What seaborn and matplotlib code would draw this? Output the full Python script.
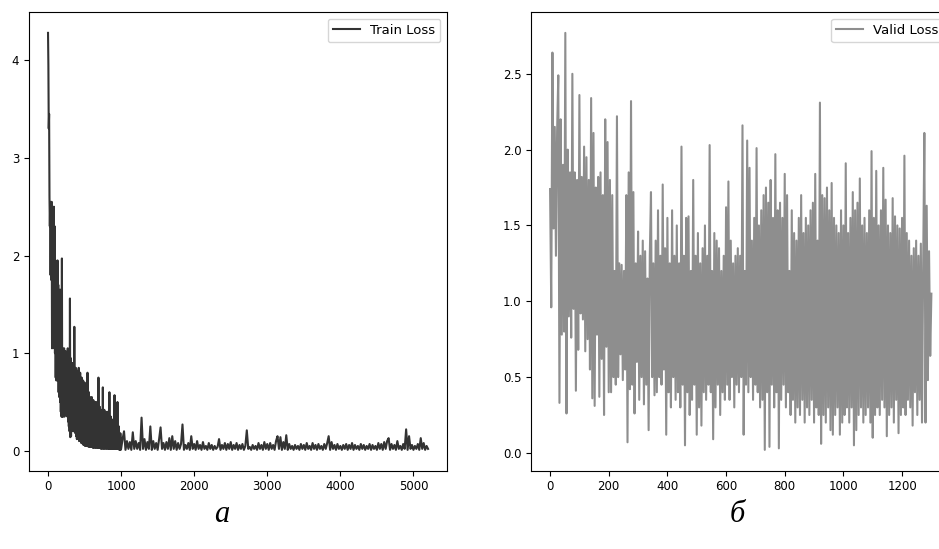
import numpy as np
import pandas as pd
import matplotlib
matplotlib.use("Agg")
import matplotlib.pyplot as plt
import seaborn as sns

# ---- data ----
# early part of the training curve: one value every 5 steps (0..995)
train_early_step = 5
train_early = [
    4.28, 3.95, 3.30, 3.45, 2.60, 2.30, 2.55, 1.80, 2.50, 1.75,
    2.55, 1.05, 2.45, 1.10, 2.40, 1.20, 2.50, 1.05, 2.30, 1.00,
    1.95, 0.75, 1.90, 0.72, 1.80, 0.80, 1.95, 0.72, 1.70, 0.60,
    1.65, 0.55, 1.60, 0.50, 1.65, 0.40, 1.55, 0.35, 1.97, 0.35,
    1.05, 0.35, 1.00, 0.40, 1.05, 0.35, 0.95, 0.45, 1.02, 0.40,
    1.00, 0.45, 0.95, 0.35, 1.05, 0.30, 0.90, 0.25, 1.00, 0.20,
    1.56, 0.14, 0.95, 0.15, 0.90, 0.30, 0.85, 0.25, 0.90, 0.20,
    0.85, 0.25, 1.27, 0.20, 0.70, 0.18, 0.85, 0.15, 0.60, 0.12,
    0.82, 0.15, 0.55, 0.12, 0.85, 0.10, 0.60, 0.12, 0.80, 0.10,
    0.60, 0.08, 0.75, 0.10, 0.50, 0.07, 0.72, 0.06, 0.45, 0.08,
    0.70, 0.05, 0.50, 0.06, 0.62, 0.05, 0.42, 0.05, 0.80, 0.05,
    0.45, 0.04, 0.60, 0.05, 0.40, 0.04, 0.55, 0.04, 0.38, 0.05,
    0.55, 0.04, 0.35, 0.03, 0.52, 0.04, 0.38, 0.03, 0.50, 0.04,
    0.35, 0.03, 0.50, 0.04, 0.32, 0.03, 0.48, 0.03, 0.75, 0.03,
    0.35, 0.03, 0.45, 0.03, 0.30, 0.02, 0.42, 0.03, 0.28, 0.02,
    0.65, 0.03, 0.30, 0.02, 0.42, 0.03, 0.28, 0.02, 0.40, 0.03,
    0.25, 0.02, 0.40, 0.03, 0.25, 0.02, 0.38, 0.02, 0.60, 0.02,
    0.25, 0.02, 0.35, 0.02, 0.22, 0.02, 0.32, 0.02, 0.20, 0.02,
    0.30, 0.02, 0.57, 0.02, 0.22, 0.02, 0.30, 0.02, 0.20, 0.02,
    0.50, 0.02, 0.20, 0.02, 0.25, 0.01, 0.15, 0.01, 0.18, 0.01,
]
# rest of the training curve: one value every 20 steps (1000..5200)
train_late_start = 1000
train_late_step = 20
train_late = [
    0.02, 0.12, 0.20, 0.01, 0.10, 0.02, 0.09, 0.01, 0.19, 0.02,
    0.10, 0.02, 0.08, 0.01, 0.34, 0.02, 0.12, 0.01, 0.09, 0.02,
    0.25, 0.01, 0.10, 0.02, 0.08, 0.01, 0.12, 0.24, 0.02, 0.08,
    0.01, 0.09, 0.02, 0.13, 0.01, 0.15, 0.02, 0.10, 0.01, 0.08,
    0.02, 0.07, 0.27, 0.01, 0.06, 0.02, 0.08, 0.01, 0.15, 0.02,
    0.07, 0.01, 0.10, 0.02, 0.06, 0.01, 0.09, 0.02, 0.05, 0.01,
    0.08, 0.02, 0.06, 0.01, 0.05, 0.02, 0.04, 0.12, 0.01, 0.06,
    0.02, 0.08, 0.01, 0.07, 0.02, 0.09, 0.01, 0.06, 0.02, 0.08,
    0.01, 0.06, 0.02, 0.07, 0.01, 0.05, 0.21, 0.02, 0.04, 0.01,
    0.06, 0.02, 0.05, 0.01, 0.08, 0.02, 0.06, 0.01, 0.09, 0.02,
    0.07, 0.01, 0.08, 0.02, 0.06, 0.01, 0.10, 0.15, 0.02, 0.14,
    0.01, 0.09, 0.02, 0.16, 0.01, 0.07, 0.02, 0.05, 0.01, 0.06,
    0.02, 0.05, 0.01, 0.07, 0.02, 0.06, 0.01, 0.08, 0.02, 0.05,
    0.01, 0.08, 0.02, 0.06, 0.01, 0.07, 0.02, 0.05, 0.01, 0.07,
    0.02, 0.08, 0.15, 0.01, 0.09, 0.02, 0.06, 0.01, 0.07, 0.02,
    0.05, 0.01, 0.06, 0.02, 0.07, 0.01, 0.06, 0.02, 0.08, 0.01,
    0.06, 0.02, 0.05, 0.01, 0.07, 0.02, 0.06, 0.01, 0.05, 0.02,
    0.07, 0.01, 0.06, 0.02, 0.05, 0.01, 0.08, 0.02, 0.07, 0.01,
    0.09, 0.02, 0.10, 0.13, 0.01, 0.07, 0.02, 0.06, 0.01, 0.10,
    0.02, 0.05, 0.01, 0.07, 0.02, 0.22, 0.01, 0.15, 0.02, 0.06,
    0.01, 0.05, 0.02, 0.07, 0.01, 0.13, 0.02, 0.08, 0.01, 0.05,
    0.02,
]

valid_step = 4
valid_loss = [
    1.74, 0.96, 2.64, 1.48, 2.15, 1.30, 2.12, 2.49, 0.33, 2.20,
    0.78, 1.90, 0.80, 2.77, 0.26, 2.00, 0.90, 1.85, 0.76, 2.50,
    0.95, 1.85, 0.41, 1.80, 0.68, 2.36, 0.92, 1.82, 0.88, 2.02,
    0.67, 1.95, 0.75, 1.80, 0.55, 2.34, 0.36, 2.11, 0.31, 1.75,
    0.78, 1.82, 0.37, 1.85, 0.62, 1.70, 0.25, 2.20, 0.70, 2.05,
    0.40, 1.80, 0.40, 1.70, 0.50, 1.20, 0.45, 2.22, 0.50, 1.25,
    0.65, 1.24, 0.48, 1.20, 0.55, 1.70, 0.07, 1.85, 0.42, 2.32,
    0.45, 1.72, 0.26, 1.25, 0.60, 1.46, 0.35, 1.30, 0.50, 1.40,
    0.32, 1.33, 0.45, 1.15, 0.15, 1.30, 1.72, 0.50, 1.25, 0.38,
    1.40, 0.40, 1.60, 0.50, 1.30, 0.45, 1.77, 0.55, 1.35, 0.12,
    1.55, 0.40, 1.25, 0.30, 1.60, 0.50, 1.30, 0.35, 1.50, 0.40,
    1.25, 0.30, 2.02, 0.45, 1.30, 0.05, 1.55, 0.40, 1.56, 0.25,
    1.20, 0.35, 1.80, 0.45, 1.30, 0.12, 1.45, 0.30, 1.25, 0.18,
    1.35, 0.40, 1.50, 0.35, 1.30, 0.45, 2.03, 0.40, 1.20, 0.09,
    1.45, 0.30, 1.40, 0.45, 1.35, 0.25, 1.20, 0.40, 1.30, 0.35,
    1.62, 0.45, 1.79, 0.35, 1.40, 0.50, 1.25, 0.30, 1.30, 0.45,
    1.35, 0.40, 1.30, 0.50, 2.16, 0.12, 1.20, 0.45, 2.06, 0.40,
    1.88, 0.50, 1.40, 0.35, 1.55, 0.45, 2.01, 0.40, 1.50, 0.30,
    1.60, 0.35, 1.70, 0.02, 1.75, 0.40, 1.65, 0.04, 1.80, 0.45,
    1.55, 0.30, 1.97, 0.40, 1.60, 0.03, 1.65, 0.35, 1.55, 0.45,
    1.84, 0.30, 1.70, 0.40, 1.20, 0.25, 1.60, 0.35, 1.45, 0.20,
    1.40, 0.30, 1.55, 0.25, 1.70, 0.35, 1.45, 0.20, 1.55, 0.30,
    1.50, 0.25, 1.60, 0.35, 1.65, 0.20, 1.84, 0.30, 1.40, 0.25,
    2.31, 0.06, 1.70, 0.25, 1.68, 0.20, 1.75, 0.30, 1.60, 0.15,
    1.78, 0.12, 1.55, 0.25, 1.50, 0.30, 1.45, 0.12, 1.60, 0.20,
    1.50, 0.25, 1.91, 0.30, 1.45, 0.20, 1.55, 0.30, 1.72, 0.05,
    1.60, 0.15, 1.65, 0.25, 1.81, 0.30, 1.50, 0.20, 1.55, 0.25,
    1.45, 0.30, 1.60, 0.20, 1.99, 0.10, 1.55, 0.25, 1.86, 0.30,
    1.50, 0.25, 1.60, 0.35, 1.88, 0.30, 1.67, 0.11, 1.50, 0.25,
    1.45, 0.30, 1.68, 0.20, 1.56, 0.35, 1.50, 0.13, 1.48, 0.25,
    1.55, 0.30, 1.96, 0.25, 1.45, 0.35, 1.40, 0.30, 1.30, 0.18,
    1.35, 0.40, 1.40, 0.25, 1.30, 0.35, 1.38, 0.20, 1.25, 2.11,
    0.20, 1.63, 0.48, 1.33, 0.64, 1.05,
]

panel_labels = ["а", "б"]
series_labels = ["Train Loss", "Valid Loss"]

train_steps = np.concatenate([
    np.arange(len(train_early)) * train_early_step,
    train_late_start + np.arange(len(train_late)) * train_late_step,
])
train_df = pd.DataFrame({"step": train_steps, "loss": train_early + train_late})
valid_df = pd.DataFrame({"step": np.arange(len(valid_loss)) * valid_step,
                         "loss": valid_loss})

plt.rcParams["font.family"] = ["DejaVu Sans"]
plt.rcParams["font.size"] = 8.5

fig = plt.figure(figsize=(9.39, 5.49), dpi=100)
ax1 = fig.add_axes([0.0309, 0.1426, 0.4452, 0.8355])
ax2 = fig.add_axes([0.5655, 0.1426, 0.4467, 0.8355])

sns.lineplot(data=train_df, x="step", y="loss", ax=ax1, color="#333333",
             linewidth=1.5, label=series_labels[0])
sns.lineplot(data=valid_df, x="step", y="loss", ax=ax2, color="#8e8e8e",
             linewidth=1.5, label=series_labels[1])

ax1.set_yticks([0, 1, 2, 3, 4])
ax1.set_xticks([0, 1000, 2000, 3000, 4000, 5000])
ax2.set_yticks([0.0, 0.5, 1.0, 1.5, 2.0, 2.5])
ax2.set_xticks([0, 200, 400, 600, 800, 1000, 1200])

for ax in (ax1, ax2):
    ax.set_xlabel("")
    ax.set_ylabel("")
    ax.tick_params(labelsize=8.5, length=3.5, width=0.8)
    for s in ax.spines.values():
        s.set_linewidth(0.8)
        s.set_color("black")
    ax.legend(loc="upper right", fontsize=9.5, frameon=True)

for xc, lab in zip([222, 737], panel_labels):
    fig.text(xc / 939, 1 - 514 / 549, lab, ha="center", va="center",
             fontsize=22, style="italic",
             family=["Liberation Serif", "DejaVu Serif"])

fig.savefig("out.png", dpi=100)
